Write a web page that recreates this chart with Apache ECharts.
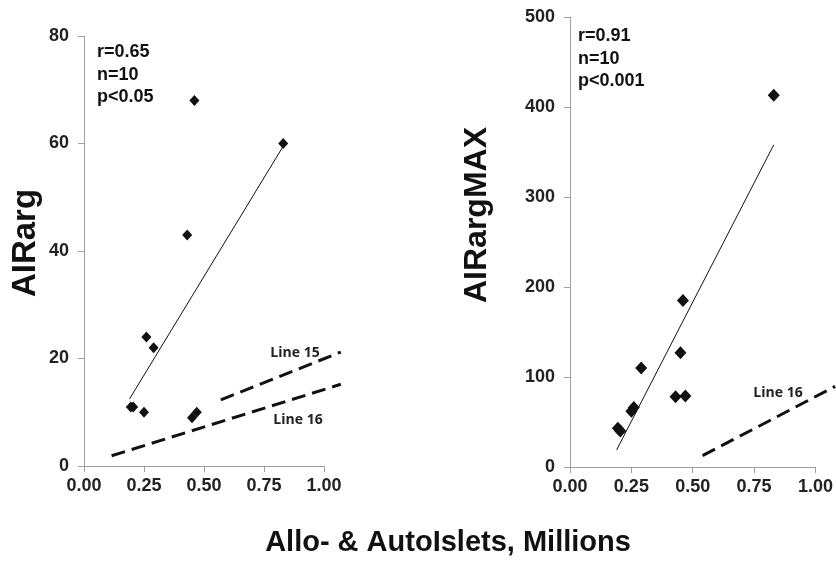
<!DOCTYPE html>
<html>
<head>
<meta charset="utf-8">
<script src="https://cdn.jsdelivr.net/npm/echarts@6/dist/echarts.min.js"></script>
<style>
html,body{margin:0;padding:0;background:#fff;}
#chart{width:836px;height:561px;}
</style>
</head>
<body>
<div id="chart"></div>
<script>
// ---- data ----
const xTicks = [0, 0.25, 0.5, 0.75, 1.0];
const leftYTicks = [0, 20, 40, 60, 80];
const rightYTicks = [0, 100, 200, 300, 400, 500];

const isletsLeft = [0.195, 0.205, 0.25, 0.26, 0.29, 0.43, 0.45, 0.46, 0.47, 0.83];
const airarg     = [11,    11,    10,   24,   22,   43,   9,    68,   10,   60];

const isletsRight = [0.195, 0.205, 0.25, 0.26, 0.29, 0.43, 0.45, 0.46, 0.47, 0.83];
const airargMax   = [43,    40,    62,   66,   110,  78,   127,  185,  79,   413];

const trendLeftX = [0.19, 0.83];
const trendLeftY = [12.5, 59.5];
const line15X = [0.57, 1.07];
const line15Y = [12.3, 21.2];
const line16LeftX = [0.115, 1.07];
const line16LeftY = [1.9, 15.2];

const trendRightX = [0.19, 0.83];
const trendRightY = [19, 358];
const line16RightX = [0.54, 1.08];
const line16RightY = [12.6, 89.6];

const statsLeft = ['r=0.65', 'n=10', 'p<0.05'];
const statsRight = ['r=0.91', 'n=10', 'p<0.001'];

// ---- helpers ----
const FONT = '"Liberation Sans", Arial, sans-serif';
const axisGray = '#a0a0a0';
const ink = '#111111';
const zip = (xs, ys) => xs.map((x, i) => [x, ys[i]]);

function xAxisCfg(gridIndex) {
  return {
    type: 'value', gridIndex, min: xTicks[0], max: xTicks[xTicks.length - 1], interval: 0.25,
    axisLine: { show: true, lineStyle: { color: axisGray, width: 1 } },
    axisTick: { show: true, length: 6, lineStyle: { color: axisGray } },
    splitLine: { show: false },
    axisLabel: { formatter: v => v.toFixed(2), fontFamily: FONT, fontWeight: 'bold', fontSize: 18, color: '#222', margin: 11 }
  };
}
function yAxisCfg(gridIndex, ticks) {
  return {
    type: 'value', gridIndex, min: ticks[0], max: ticks[ticks.length - 1], interval: ticks[1] - ticks[0],
    axisLine: { show: true, lineStyle: { color: axisGray, width: 1 } },
    axisTick: { show: true, length: 6, lineStyle: { color: axisGray } },
    splitLine: { show: false },
    axisLabel: { fontFamily: FONT, fontWeight: 'bold', fontSize: 18, color: '#222', margin: 15 }
  };
}
// segment drawn through the axes' scales; custom series is not clipped to the grid
function segSeries(xi, xs, ys, dashed) {
  return {
    type: 'custom', xAxisIndex: xi, yAxisIndex: xi, silent: true, clip: false,
    data: [[xs[0], ys[0], xs[1], ys[1]]],
    encode: { x: [0, 2], y: [1, 3] },
    renderItem: (params, api) => {
      const p0 = api.coord([api.value(0), api.value(1)]);
      const p1 = api.coord([api.value(2), api.value(3)]);
      return {
        type: 'line',
        shape: { x1: p0[0], y1: p0[1], x2: p1[0], y2: p1[1] },
        style: dashed
          ? { stroke: ink, lineWidth: 3, lineDash: [14, 7], fill: null }
          : { stroke: ink, lineWidth: 1, fill: null }
      };
    }
  };
}

const chart = echarts.init(document.getElementById('chart'), null, { renderer: 'canvas' });
chart.setOption({
  backgroundColor: '#fff',
  animation: false,
  grid: [
    { left: 84, top: 36, width: 240, height: 430 },
    { left: 570, top: 17, width: 247, height: 450 }
  ],
  xAxis: [xAxisCfg(0), xAxisCfg(1)],
  yAxis: [yAxisCfg(0, leftYTicks), yAxisCfg(1, rightYTicks)],
  series: [
    segSeries(0, trendLeftX, trendLeftY, false),
    segSeries(0, line15X, line15Y, true),
    segSeries(0, line16LeftX, line16LeftY, true),
    segSeries(1, trendRightX, trendRightY, false),
    segSeries(1, line16RightX, line16RightY, true),
    { type: 'scatter', xAxisIndex: 0, yAxisIndex: 0, data: zip(isletsLeft, airarg),
      symbol: 'diamond', symbolSize: [10, 11], itemStyle: { color: ink, opacity: 1 } },
    { type: 'scatter', xAxisIndex: 1, yAxisIndex: 1, data: zip(isletsRight, airargMax),
      symbol: 'diamond', symbolSize: [12, 13], itemStyle: { color: ink, opacity: 1 } }
  ],
  graphic: [
    { type: 'text', x: 26, y: 243, rotation: Math.PI / 2,
      style: { text: 'AIRarg', font: 'bold 33px ' + FONT, fill: '#111', align: 'center', verticalAlign: 'middle' } },
    { type: 'text', x: 477, y: 215, rotation: Math.PI / 2,
      style: { text: 'AIRargMAX', font: 'bold 32px ' + FONT, fill: '#111', align: 'center', verticalAlign: 'middle' } },
    { type: 'text', x: 448, y: 543,
      style: { text: 'Allo- & AutoIslets, Millions', font: 'bold 29px ' + FONT, fill: '#111', align: 'center', verticalAlign: 'middle' } },
    { type: 'text', x: 97, y: 41,
      style: { text: statsLeft.join('\n'), font: 'bold 18px ' + FONT, lineHeight: 22.5, fill: '#111', align: 'left', verticalAlign: 'top' } },
    { type: 'text', x: 578, y: 25,
      style: { text: statsRight.join('\n'), font: 'bold 18px ' + FONT, lineHeight: 22.5, fill: '#111', align: 'left', verticalAlign: 'top' } },
    { type: 'text', x: 295, y: 353,
      style: { text: 'Line 15', font: 'bold 14px "Open Sans", sans-serif', fill: '#222', align: 'center', verticalAlign: 'middle' } },
    { type: 'text', x: 298, y: 420,
      style: { text: 'Line 16', font: 'bold 14px "Open Sans", sans-serif', fill: '#222', align: 'center', verticalAlign: 'middle' } },
    { type: 'text', x: 778, y: 393,
      style: { text: 'Line 16', font: 'bold 14px "Open Sans", sans-serif', fill: '#222', align: 'center', verticalAlign: 'middle' } }
  ]
});
</script>
</body>
</html>
